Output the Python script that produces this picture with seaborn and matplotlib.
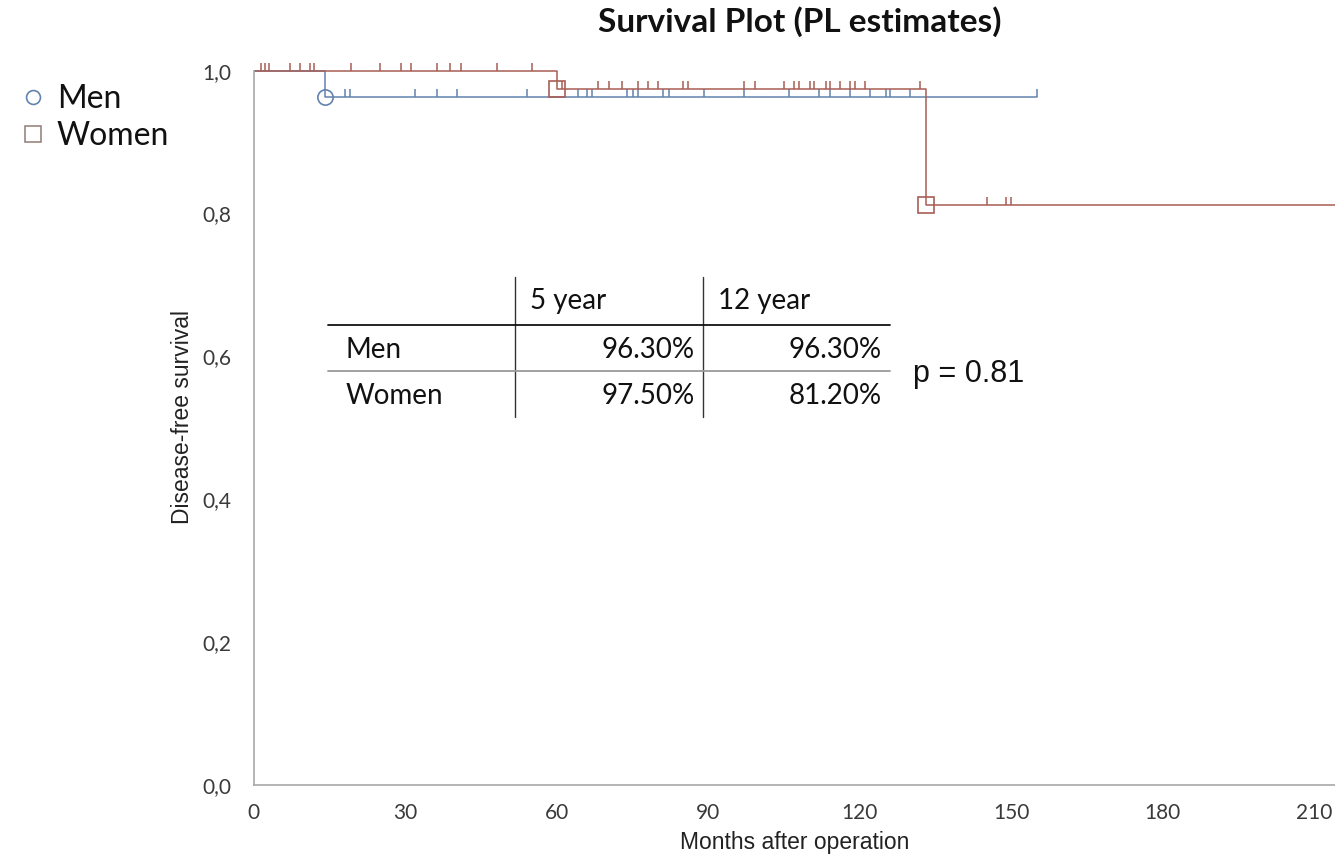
import numpy as np
import pandas as pd
import matplotlib
matplotlib.use("Agg")
import matplotlib.pyplot as plt
from matplotlib.lines import Line2D
from matplotlib.path import Path
import seaborn as sns

# ---------------- data ----------------
groups = ["Men", "Women"]

men_event_times = [14.2]
men_event_surv = [0.963]
men_end_time = 155.2
men_censor_times = [18.1, 19.1, 32.0, 36.3, 40.3, 54.2, 64.3, 66.0, 67.0, 74.0, 75.2,
                    76.2, 81.1, 82.2, 89.3, 97.2, 106.1, 112.0, 114.2, 118.1, 122.1,
                    125.2, 126.0, 130.0, 155.2]

women_event_times = [60.1, 133.1]
women_event_surv = [0.975, 0.812]
women_end_time = 215.0
women_censor_times = [1.4, 2.3, 3.1, 7.2, 9.2, 11.2, 12.0, 19.3, 25.0, 29.2, 31.2, 36.3,
                      38.9, 41.1, 48.2, 55.1, 61.1, 68.3, 70.3, 73.0, 76.2, 78.2, 80.0,
                      85.1, 86.1, 97.2, 99.3, 105.1, 107.1, 108.1, 110.1, 111.0, 113.4,
                      114.2, 116.1, 118.1, 119.1, 121.1, 132.0, 145.2, 149.1, 150.0]

x_ticks = [0, 30, 60, 90, 120, 150, 180, 210]
y_ticks = [0.0, 0.2, 0.4, 0.6, 0.8, 1.0]
y_tick_labels = ["0,0", "0,2", "0,4", "0,6", "0,8", "1,0"]

table_cols = ["5 year", "12 year"]
table_rows = ["Men", "Women"]
table_vals = [["96.30%", "96.30%"], ["97.50%", "81.20%"]]
p_text = "p = 0.81"

title = "Survival Plot (PL estimates)"
xlabel = "Months after operation"
ylabel = "Disease-free survival"

# ---------------- style ----------------
W, H = 1335, 859
sns.set_theme(style="white")
plt.rcParams["font.family"] = ["Lato", "DejaVu Sans"]

c_men = "#6283ad"
c_women = "#a85e56"
c_spine = "#a8a8a8"
c_text = "#3a3a3a"


def fx(px):
    return px / W


def fy(py):
    return 1 - py / H


fig = plt.figure(figsize=(W / 100, H / 100), dpi=100)
px_per_unit_y = 785 - 70.7
ytop = 1.03
ax = fig.add_axes([fx(253.5), fy(785), 1 - fx(253.5), ytop * px_per_unit_y / H])


def km_frame(event_times, event_surv, end_time):
    xs = [0.0]
    ys = [1.0]
    for t, s in zip(event_times, event_surv):
        xs.append(t)
        ys.append(s)
    xs.append(end_time)
    ys.append(ys[-1])
    return pd.DataFrame({"time": xs, "surv": ys})


def surv_at(times, event_times, event_surv):
    out = []
    for t in times:
        s = 1.0
        for et, es in zip(event_times, event_surv):
            if t >= et:
                s = es
        out.append(s)
    return out


tick_marker = Path([(0, 0), (0, 1)], [Path.MOVETO, Path.LINETO])

specs = [
    ("Men", men_event_times, men_event_surv, men_end_time, men_censor_times, c_men, "o"),
    ("Women", women_event_times, women_event_surv, women_end_time, women_censor_times, c_women, "s"),
]

for name, ev_t, ev_s, end_t, cens_t, col, mk in specs:
    df = km_frame(ev_t, ev_s, end_t)
    sns.lineplot(data=df, x="time", y="surv", ax=ax, color=col, lw=1.1,
                 drawstyle="steps-post", estimator=None, sort=False, legend=False)
    cdf = pd.DataFrame({"time": cens_t, "surv": surv_at(cens_t, ev_t, ev_s)})
    ax.plot(cdf["time"], cdf["surv"], linestyle="none", marker=tick_marker,
            markersize=12, markeredgewidth=1.1, color=col, clip_on=False)
    edf = pd.DataFrame({"time": ev_t, "surv": ev_s})
    ax.plot(edf["time"], edf["surv"], linestyle="none", marker=mk, markersize=11,
            markerfacecolor="none", markeredgecolor=col, markeredgewidth=1.2, clip_on=False)

ax.set_xlim(0, (W - 253.5) / 5.05)
ax.set_ylim(0, ytop)
ax.set_xticks(x_ticks)
ax.set_yticks(y_ticks)
ax.set_yticklabels(y_tick_labels)
for s in ["top", "right"]:
    ax.spines[s].set_visible(False)
for s in ["left", "bottom"]:
    ax.spines[s].set_color(c_spine)
    ax.spines[s].set_linewidth(1.2)
ax.spines["left"].set_bounds(0, 1.0)
ax.tick_params(axis="both", direction="out", length=6, width=1.0, color=c_spine,
               labelsize=15, labelcolor=c_text)
ax.tick_params(axis="y", pad=10)
ax.tick_params(axis="x", pad=7)
ax.set_xlabel(xlabel, fontsize=16.5, family=["Liberation Sans"], color="#222222", labelpad=6)
ax.set_ylabel(ylabel, fontsize=16.5, family=["Liberation Sans"], color="#222222", labelpad=6)

fig.text(fx(800), fy(22), title, ha="center", va="center", fontsize=24,
         fontweight="bold", color="#111111")

# legend
handles = [
    Line2D([], [], linestyle="none", marker="o", markersize=10, markerfacecolor="none",
           markeredgecolor=c_men, markeredgewidth=1.2),
    Line2D([], [], linestyle="none", marker="s", markersize=12, markerfacecolor="none",
           markeredgecolor="#9a8580", markeredgewidth=1.2),
]
fig.legend(handles, groups, loc="upper left", bbox_to_anchor=(fx(-4), fy(62)),
           frameon=False, fontsize=23, handlelength=0.9, handletextpad=0.3,
           labelspacing=0.2, borderpad=0.2, labelcolor="#111111")

# table
tbl_font = 20
fig.add_artist(Line2D([fx(515), fx(515)], [fy(277), fy(417)], color="#333333", lw=1.0))
fig.add_artist(Line2D([fx(703), fx(703)], [fy(277), fy(417)], color="#333333", lw=1.0))
fig.add_artist(Line2D([fx(328), fx(890)], [fy(325), fy(325)], color="#111111", lw=1.3))
fig.add_artist(Line2D([fx(328), fx(890)], [fy(371), fy(371)], color="#9a9a9a", lw=1.3))
fig.text(fx(530), fy(301), table_cols[0], ha="left", va="center", fontsize=tbl_font, color="#111111")
fig.text(fx(718), fy(301), table_cols[1], ha="left", va="center", fontsize=tbl_font, color="#111111")
row_y = [350, 396]
for ry, rname, vals in zip(row_y, table_rows, table_vals):
    fig.text(fx(346), fy(ry), rname, ha="left", va="center", fontsize=tbl_font, color="#111111")
    fig.text(fx(695), fy(ry), vals[0], ha="right", va="center", fontsize=tbl_font, color="#111111")
    fig.text(fx(882), fy(ry), vals[1], ha="right", va="center", fontsize=tbl_font, color="#111111")

fig.text(fx(913), fy(374), p_text, ha="left", va="center", fontsize=22,
         family=["Liberation Sans"], color="#111111")

fig.savefig("out.png", dpi=100)
